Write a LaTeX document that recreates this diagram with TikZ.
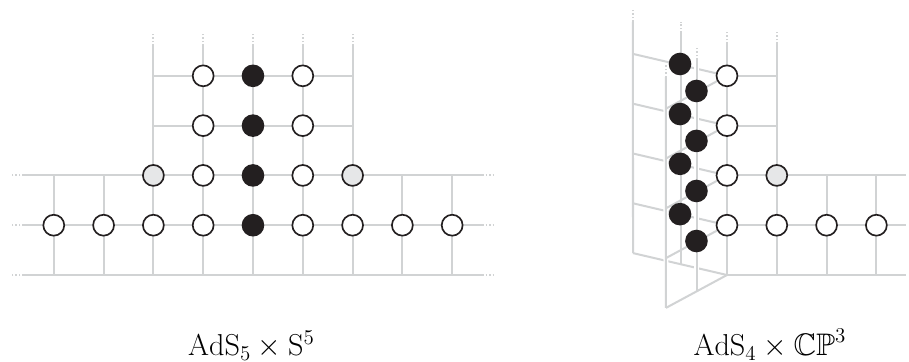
\documentclass[tikz,border=0pt]{standalone}
\usepackage{amsmath}
\usepackage{amsfonts}
\usepackage{tikz}
\usetikzlibrary{matrix, backgrounds}
\definecolor{latgray}{HTML}{D1D3D4}
\definecolor{ink}{HTML}{231F20}
\definecolor{pale}{HTML}{E6E7E8}
\tikzset{
  lat/.style={draw=latgray, line width=1.15pt},
  more/.style={draw=latgray, line width=1.15pt, dash pattern=on .9pt off 1.1pt},
  halo/.style={draw=white, line width=2.8pt},
  wht/.style={draw=ink, fill=white},
  blk/.style={draw=ink, fill=ink},
  gry/.style={draw=ink, fill=pale},
  site/.style={circle, inner sep=0pt, outer sep=0pt, line width=.95pt, minimum size=.42cm},
  lattice/.style={matrix of nodes, nodes in empty cells, nodes={site}, column sep={1cm,between origins}, row sep={1cm,between origins}},
  lbl/.style={font=\fontsize{17.8}{20}\selectfont, inner sep=0pt, anchor=base}
}
\begin{document}
\begin{tikzpicture}
\useasboundingbox (0,0) rectangle (18.253,-7.269);
% AdS5 x S5
\matrix (m) at (5.08,-3.514) [lattice]{
 & & & |[wht]| & |[blk]| & |[wht]| & & & \\
 & & & |[wht]| & |[blk]| & |[wht]| & & & \\
 & & |[gry]| & |[wht]| & |[blk]| & |[wht]| & |[gry]| & & \\
|[wht]| & |[wht]| & |[wht]| & |[wht]| & |[blk]| & |[wht]| & |[wht]| & |[wht]| & |[wht]| \\
 & & & & & & & & \\
};
\node [lbl] (lblm) at (5.05,-7.14) {$\mathrm{AdS}_5\times\mathrm{S}^5$};
% free ends of the lines
\foreach \r in {3,4,5}{
  \path (m-\r-1.center) ++(-.6,0) coordinate (ml-\r) ++(-.27,0) coordinate (mll-\r);
  \path (m-\r-9.center) ++(.6,0) coordinate (mr-\r) ++(.27,0) coordinate (mrr-\r);
}
\foreach \c in {3,...,7}{
  \path (m-1-\c.center) ++(0,.6) coordinate (mt-\c) ++(0,.25) coordinate (mtt-\c);
}
\begin{scope}[on background layer]
\foreach \r in {3,4,5}{
  \draw [lat] (ml-\r) -- (mr-\r);
  \draw [more] (ml-\r) -- (mll-\r);
  \draw [more] (mr-\r) -- (mrr-\r);
}
\foreach \r in {1,2} \draw [lat] (m-\r-3.center) -- (m-\r-7.center);
\foreach \c in {3,...,7}{
  \draw [lat] (mt-\c) -- (m-5-\c.center);
  \draw [more] (mt-\c) -- (mtt-\c);
}
\foreach \c in {1,2,8,9} \draw [lat] (m-3-\c.center) -- (m-5-\c.center);
\end{scope}
% AdS4 x CP3
\matrix (n) at (16.098,-3.514) [lattice]{
|[wht]| & & & \\
|[wht]| & & & \\
|[wht]| & |[gry]| & & \\
|[wht]| & |[wht]| & |[wht]| & |[wht]| \\
 & & & \\
};
\node [lbl] (lbln) at (15.46,-7.14) {$\mathrm{AdS}_4\times\mathbb{CP}^3$};
\foreach \r/\y in {1/1.285,2/2.29,3/3.29,4/4.30}
  \node [site, blk] (u-\r) at (13.655,-\y) {};
\foreach \r/\y in {1/1.827,2/2.83,3/3.835,4/4.84}
  \node [site, blk] (v-\r) at (13.985,-\y) {};
\foreach \r in {1,...,5}{
  \path (n-\r-1.center) ++(-1.887,.44) coordinate (a-\r);
  \path (n-\r-1.center) ++(-1.225,-.66) coordinate (b-\r);
}
\foreach \r in {3,4,5}
  \path (n-\r-4.center) ++(.6,0) coordinate (nr-\r);
\foreach \c in {1,2}
  \path (n-1-\c.center) ++(0,.64) coordinate (nt-\c) ++(0,.25) coordinate (ntt-\c);
\coordinate (ta) at (12.71,-.44);
\coordinate (tta) at (12.71,-.2);
\coordinate (tb) at (13.37,-1.55);
\coordinate (ttb) at (13.37,-1.3);
\coordinate (tu) at (13.67,-.66);
\coordinate (ttu) at (13.67,-.44);
\coordinate (tv) at (13.99,-1.2);
\coordinate (ttv) at (13.99,-.96);
\coordinate (bu) at (13.67,-5.3);
\coordinate (bv) at (13.99,-5.84);
\begin{scope}[on background layer]
\foreach \r in {3,4,5} \draw [lat] (n-\r-1.center) -- (nr-\r);
\foreach \r in {1,2} \draw [lat] (n-\r-1.center) -- (n-\r-2.center);
\foreach \c in {1,2}{
  \draw [lat] (nt-\c) -- (n-5-\c.center);
  \draw [more] (nt-\c) -- (ntt-\c);
}
\foreach \c in {3,4} \draw [lat] (n-3-\c.center) -- (n-5-\c.center);
\draw [lat] (ta) -- (a-5);
\draw [more] (ta) -- (tta);
\foreach \r in {1,...,5} \draw [lat] (a-\r) -- (n-\r-1.center);
\draw [halo] (tb) -- (b-5);
\draw [halo] (tv) -- (bv);
\draw [lat] (tu) -- (bu);
\draw [more] (tu) -- (ttu);
\draw [lat] (tv) -- (bv);
\draw [more] (tv) -- (ttv);
\draw [lat] (tb) -- (b-5);
\draw [more] (tb) -- (ttb);
\foreach \r in {1,...,5} \draw [lat] (b-\r) -- (n-\r-1.center);
\end{scope}
\end{tikzpicture}
\end{document}
